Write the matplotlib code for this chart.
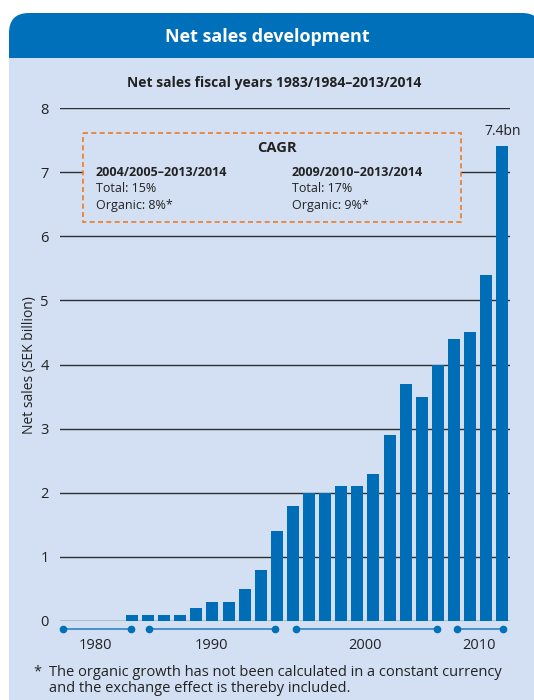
import matplotlib.pyplot as plt
from matplotlib.patches import FancyBboxPatch, Rectangle

plt.rcParams['font.family'] = ['Open Sans', 'DejaVu Sans']

# net sales per fiscal year, SEK billion (1983/84 ... 2013/14 as drawn)
sales = [0.1, 0.1, 0.1, 0.1, 0.2, 0.3, 0.3, 0.5, 0.8, 1.4, 1.8, 2.0,
         2.0, 2.1, 2.1, 2.3, 2.9, 3.7, 3.5, 4.0, 4.4, 4.5, 5.4, 7.4]
year_labels = ['1980', '1990', '2000', '2010']
year_pos = [-2.24, 4.94, 14.5, 21.55]          # in bar-index units
# timeline segments under the axis (bar-index units)
segments = [(-4.27, -0.08), (1.05, 8.87), (10.16, 18.96), (20.16, 23.06)]
yticks = [0, 1, 2, 3, 4, 5, 6, 7, 8]

W, H = 534, 700
dark_blue = '#0070BA'
bar_blue = '#006EB6'
light_bg = '#D3E0F3'
orange = '#EE7A22'
text_col = '#222222'

fig = plt.figure(figsize=(W / 100, H / 100), dpi=100)
fig.patch.set_facecolor('white')

# background panel in pixel coordinates
bg = fig.add_axes([0, 0, 1, 1], zorder=0)
bg.set_xlim(0, W)
bg.set_ylim(H, 0)
bg.axis('off')
bg.add_patch(FancyBboxPatch((9, 13), 533, 120, boxstyle='round,pad=0,rounding_size=20',
                            fc=dark_blue, ec='none'))
bg.add_patch(Rectangle((9, 58), 533, 700, fc=light_bg, ec='none'))
bg.text(267, 37, 'Net sales development', color='white', fontsize=13,
        fontweight='bold', ha='center', va='center')
bg.text(274, 83, 'Net sales fiscal years 1983/1984\u20132013/2014', color=text_col,
        fontsize=10, fontweight='bold', ha='center', va='center')
bg.text(30, 365, 'Net sales (SEK billion)', rotation=90, color=text_col,
        fontsize=10, ha='center', va='center')
bg.text(37, 672, '*', color=text_col, fontsize=10.5, ha='center', va='center')
bg.text(49, 672, 'The organic growth has not been calculated in a constant currency',
        color=text_col, fontsize=10.5, ha='left', va='center')
bg.text(49, 689, 'and the exchange effect is thereby included.',
        color=text_col, fontsize=10.5, ha='left', va='center')

# main bar chart
ax = fig.add_axes([60 / W, 1 - 621 / H, 450 / W, 513 / H], zorder=1)
ax.patch.set_alpha(0)
x = list(range(len(sales)))
ax.bar(x, sales, width=0.745, color=bar_blue, zorder=2)
ax.set_xlim(-4.47, 23.48)
ax.set_ylim(0, 8)
ax.set_yticks(yticks)
ax.yaxis.grid(True, color='#2e2e2e', linewidth=1.0)
ax.set_axisbelow(True)
for s in ax.spines.values():
    s.set_visible(False)
ax.tick_params(axis='y', length=0, pad=8, labelsize=10.5, labelcolor=text_col)
ax.set_xticks(year_pos, year_labels)
ax.tick_params(axis='x', length=0, pad=12, labelsize=10.5, labelcolor=text_col)

for a, b in segments:
    ax.plot([a, b], [-0.125, -0.125], color='#3F8ACB', lw=1.3, clip_on=False, zorder=3)
    ax.plot([a, b], [-0.125, -0.125], 'o', color=dark_blue, ms=4.5, clip_on=False, zorder=4)

ax.text(x[-1], sales[-1] + 0.12, '7.4bn', ha='center', va='bottom', fontsize=10,
        color=text_col)

# CAGR box on top
ov = fig.add_axes([0, 0, 1, 1], zorder=2)
ov.set_xlim(0, W)
ov.set_ylim(H, 0)
ov.axis('off')
ov.add_patch(Rectangle((83, 133), 378, 89, fc=light_bg, ec=orange, lw=1.2,
                       linestyle=(0, (3, 2))))
ov.text(277, 148, 'CAGR', fontsize=10.5, fontweight='bold', ha='center', va='center',
        color=text_col)
for cx, period, total, organic in [(96, '2004/2005\u20132013/2014', 'Total: 15%', 'Organic: 8%*'),
                                   (292, '2009/2010\u20132013/2014', 'Total: 17%', 'Organic: 9%*')]:
    ov.text(cx, 173, period, fontsize=9, fontweight='bold', ha='left', va='center', color=text_col)
    ov.text(cx, 189, total, fontsize=9, ha='left', va='center', color=text_col)
    ov.text(cx, 206, organic, fontsize=9, ha='left', va='center', color=text_col)

fig.savefig('out.png', dpi=100)
